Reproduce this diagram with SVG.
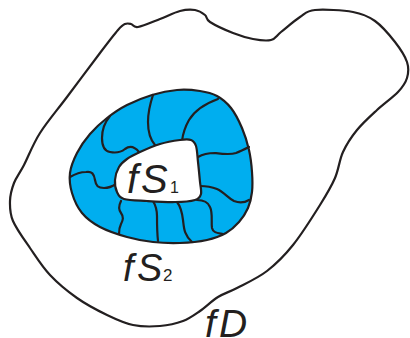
<svg xmlns="http://www.w3.org/2000/svg" width="410" height="338" viewBox="0 0 410 338">
<style>
.ln{stroke:#231f20;stroke-width:2.2;stroke-linecap:round;stroke-linejoin:round}
.open{fill:none}
.white{fill:#ffffff}
.blue{fill:#00aeef}
.lbl{font-family:"Liberation Sans",Arial,sans-serif;font-style:italic;fill:#231f20}
.sub{font-style:normal}
</style>
<rect width="410" height="338" fill="#ffffff"/>
<g id="fD">
<path class="ln white" d="M118,30 C122.2,25.2 122.8,25 125,24 C127.2,23 128.8,23.5 131,24 C133.2,24.5 133.2,27.8 138,27 C142.8,26.2 153,21.7 160,19 C167,16.3 174.2,12.5 180,11 C185.8,9.5 190.8,9.3 195,10 C199.2,10.7 202.5,13 205,15 C207.5,17 205.3,19 210,22 C214.7,25 225.8,30.2 233,33 C240.2,35.8 246.7,37.8 253,39 C259.3,40.2 266.3,41.2 271,40 C275.7,38.8 276.2,35.8 281,32 C285.8,28.2 294.3,20.7 300,17 C305.7,13.3 306.2,10.8 315,10 C323.8,9.2 343,10.2 353,12 C363,13.8 368,16 375,21 C382,26 389.7,35.2 395,42 C400.3,48.8 405,56 407,62 C409,68 408.5,73 407,78 C405.5,83 403,86.7 398,92 C393,97.3 383.8,103.7 377,110 C370.2,116.3 362.7,123 357,130 C351.3,137 346.7,144 343,152 C339.3,160 338.8,169.2 335,178 C331.2,186.8 327,193.8 320,205 C313,216.2 301.8,234 293,245 C284.2,256 276.3,263.8 267,271 C257.7,278.2 245.2,283.7 237,288 C228.8,292.3 224.2,293.2 218,297 C211.8,300.8 205.8,307 200,311 C194.2,315 189.7,318.5 183,321 C176.3,323.5 168.3,325.3 160,326 C151.7,326.7 141.8,326.8 133,325 C124.2,323.2 116.3,319.5 107,315 C97.7,310.5 86.5,304.7 77,298 C67.5,291.3 57.8,283.3 50,275 C42.2,266.7 36.2,257 30,248 C23.8,239 16.3,228.8 13,221 C9.7,213.2 9.8,207.3 10,201 C10.2,194.7 11.7,189 14,183 C16.3,177 19.7,173.3 24,165 C28.3,156.7 32.8,144.3 40,133 C47.2,121.7 57,110.3 67,97 C77,83.7 91.5,64.2 100,53 C108.5,41.8 113.8,34.8 118,30 Z"/>
<text class="lbl" x="205" y="337" font-size="39">f<tspan x="219">D</tspan></text>
</g>
<g id="fS2">
<path class="ln blue" d="M177,90 C185,89.3 193.3,90 200,91 C206.7,92 211.8,93.2 217,96 C222.2,98.8 226.8,102.7 231,108 C235.2,113.3 239,121 242,128 C245,135 247.3,142.7 249,150 C250.7,157.3 251.5,165 252,172 C252.5,179 252.7,186 252,192 C251.3,198 250.2,203 248,208 C245.8,213 242.7,217.8 239,222 C235.3,226.2 231.3,230 226,233 C220.7,236 214.7,238.3 207,240 C199.3,241.7 189,242.7 180,243 C171,243.3 161.8,243 153,242 C144.2,241 135.8,239.5 127,237 C118.2,234.5 107.5,231 100,227 C92.5,223 86.7,218.7 82,213 C77.3,207.3 74,199.7 72,193 C70,186.3 69.2,179.7 70,173 C70.8,166.3 73.7,159.5 77,153 C80.3,146.5 85,139.8 90,134 C95,128.2 100.8,122.8 107,118 C113.2,113.2 119.5,108.8 127,105 C134.5,101.2 143.7,97.5 152,95 C160.3,92.5 169,90.7 177,90 Z"/>
<text class="lbl" x="123" y="281" font-size="38">f<tspan x="137">S</tspan><tspan class="sub" x="163" font-size="17">2</tspan></text>
</g>
<g id="connectors">
<path class="ln open" d="M153,95 C150,104 148,113 148,122 C148,131 149,138 155,145"/>
<path class="ln open" d="M218,99 C207,103 195,110 189,120 C185,127 183,133 182,141"/>
<path class="ln open" d="M110,116 C105,122 102,130 102,138 C102,146 104,151 110,152 C115,153 120,153 125,149 C129,146 134,146 139,152"/>
<path class="ln open" d="M70,177 C75,174 80,172 86,172 C92,171 94,174 95,180 C96,186 98,188 104,188 C109,188 113,186 116,184"/>
<path class="ln open" d="M121,201 C119,205 118,209 121,213 C124,217 123,220 121,224 C119,228 119,231 119,234"/>
<path class="ln open" d="M153,201 C156,206 157,210 157,216 C157,224 157,232 158,241"/>
<path class="ln open" d="M177,202 C181,207 182,212 183,220 C184,228 184,235 192,242"/>
<path class="ln open" d="M197,200 C203,200 208,202 210,207 C213,213 211,222 212,228 C213,233 218,233 223,234"/>
<path class="ln open" d="M200,186 C206,186 212,187 217,189 C224,192 228,198 234,201 C239,203 244,203 249,200"/>
<path class="ln open" d="M198,157 C203,154 208,153 215,153 C223,154 230,155 236,153 C241,151 245,149 249,147"/>
</g>
<g id="fS1">
<path class="ln white" d="M140,152 C145.5,149.5 153.3,146 160,144 C166.7,142 174.8,140.7 180,140 C185.2,139.3 188.3,139 191,140 C193.7,141 194.8,142.3 196,146 C197.2,149.7 197.3,156 198,162 C198.7,168 199.5,176.7 200,182 C200.5,187.3 201.8,191 201,194 C200.2,197 199.3,198.7 195,200 C190.7,201.3 183,202 175,202 C167,202.2 155.5,201.5 147,201 C138.5,200.5 129,200.5 124,199 C119,197.5 118.5,195.2 117,192 C115.5,188.8 114.7,184.2 115,180 C115.3,175.8 117,170.5 119,167 C121,163.5 123.5,161.5 127,159 C130.5,156.5 134.5,154.5 140,152 Z"/>
<text class="lbl" x="127" y="193" font-size="40">f<tspan x="141">S</tspan><tspan class="sub" x="170" font-size="16">1</tspan></text>
</g>
</svg>
